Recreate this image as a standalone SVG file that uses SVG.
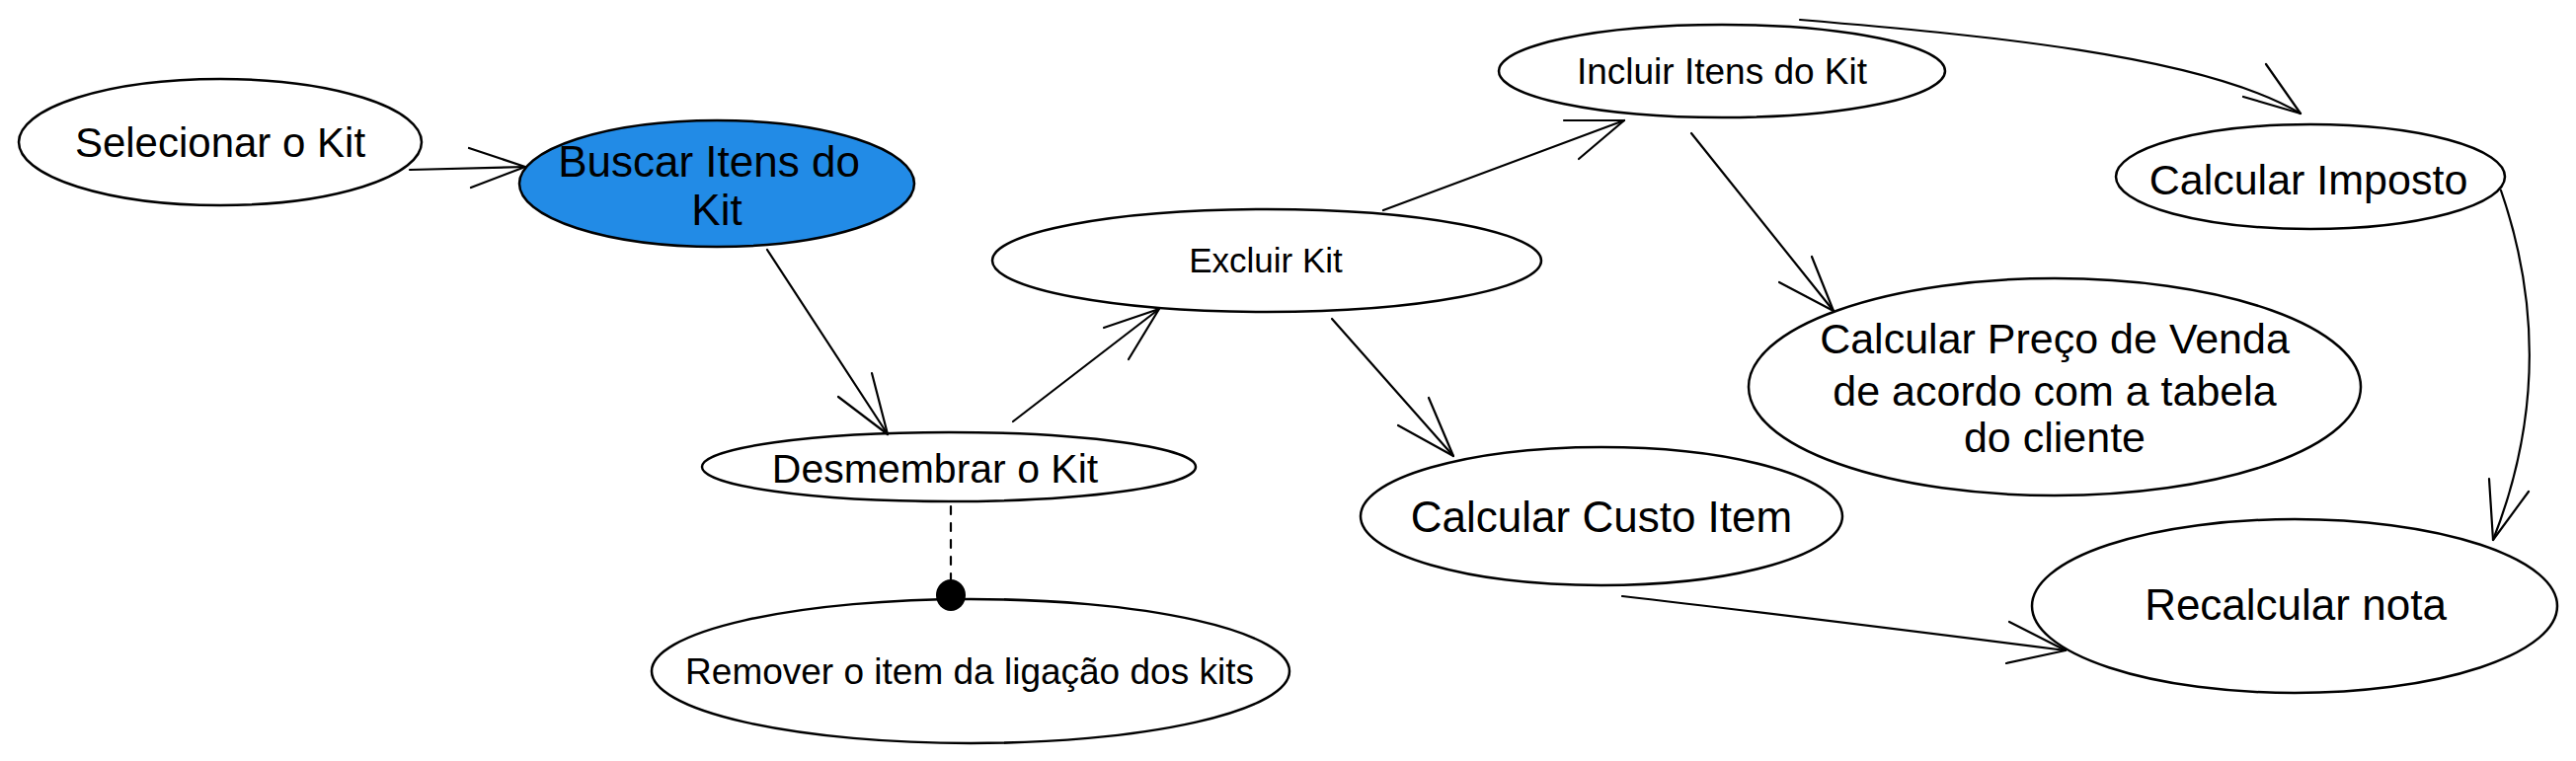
<svg xmlns="http://www.w3.org/2000/svg" width="2609" height="771" viewBox="0 0 2609 771">
<style>
.n{fill:#fff;stroke:#000;stroke-width:2.5}
.b{fill:#228be6;stroke:#000;stroke-width:2.5}
.t{font-family:"Liberation Sans",Arial,sans-serif;fill:#000;text-anchor:middle;dominant-baseline:central}
.c{fill:none;stroke:#000;stroke-width:2.2;stroke-linecap:round;stroke-linejoin:round}
</style>
<rect width="2609" height="771" fill="#fff"/>
<g id="selecionar"><ellipse class="n" cx="223" cy="144" rx="204" ry="64"/><text class="t" x="223" y="144" font-size="42">Selecionar o Kit</text></g>
<g id="buscar"><ellipse class="b" cx="726" cy="186" rx="200" ry="64"/><text class="t" x="718" y="163" font-size="44">Buscar Itens do</text><text class="t" x="726" y="212" font-size="44">Kit</text></g>
<g id="desmembrar"><ellipse class="n" cx="961" cy="473" rx="250" ry="35"/><text class="t" x="947" y="475" font-size="41">Desmembrar o Kit</text></g>
<g id="remover"><ellipse class="n" cx="983" cy="680" rx="323" ry="73"/><text class="t" x="982" y="680" font-size="37">Remover o item da ligação dos kits</text></g>
<g id="excluir"><ellipse class="n" cx="1283" cy="264" rx="278" ry="52"/><text class="t" x="1282" y="263" font-size="35">Excluir Kit</text></g>
<g id="incluir"><ellipse class="n" cx="1744" cy="72" rx="226" ry="47"/><text class="t" x="1744" y="72" font-size="37">Incluir Itens do Kit</text></g>
<g id="custo"><ellipse class="n" cx="1622" cy="523" rx="244" ry="70"/><text class="t" x="1622" y="523" font-size="44">Calcular Custo Item</text></g>
<g id="preco"><ellipse class="n" cx="2081" cy="392" rx="310" ry="110"/><text class="t" x="2081" y="343" font-size="43">Calcular Preço de Venda</text><text class="t" x="2081" y="396" font-size="43">de acordo com a tabela</text><text class="t" x="2081" y="443" font-size="43">do cliente</text></g>
<g id="imposto"><ellipse class="n" cx="2340" cy="179" rx="197" ry="53"/><text class="t" x="2338" y="182" font-size="43">Calcular Imposto</text></g>
<g id="recalcular"><ellipse class="n" cx="2324" cy="614" rx="266" ry="88"/><text class="t" x="2325" y="612" font-size="44">Recalcular nota</text></g>
<g id="connectors">
<path class="c" d="M415 172 L532 169"/><path class="c" d="M475 150 L532 169 L477 190"/>
<path class="c" d="M777 253 L899 440"/><path class="c" d="M849 402 L899 440 L883 378"/>
<path class="c" d="M1026 427 L1174 313"/><path class="c" d="M1118 332 L1174 313 L1143 364"/>
<path class="c" d="M1401 213 L1645 122"/><path class="c" d="M1584 122 L1645 122 L1599 161"/>
<path class="c" d="M1349 323 L1472 462"/><path class="c" d="M1416 431 L1472 462 L1447 403"/>
<path class="c" d="M1713 135 L1857 315"/><path class="c" d="M1802 286 L1857 315 L1835 260"/>
<path class="c" d="M1823 20 C2000 35 2230 55 2330 115"/><path class="c" d="M2295 65 L2330 115 L2272 98"/>
<path class="c" d="M2533 193 C2570 300 2575 420 2525 547"/><path class="c" d="M2521 485 L2525 547 L2561 498"/>
<path class="c" d="M1643 604 Q1800 622 2092 659"/><path class="c" d="M2035 630 L2092 659 L2032 672"/>
<path class="c" d="M963 513 L963 587" stroke-dasharray="8 9"/>
<ellipse cx="963" cy="603" rx="15" ry="16" fill="#000"/>
</g>
</svg>
